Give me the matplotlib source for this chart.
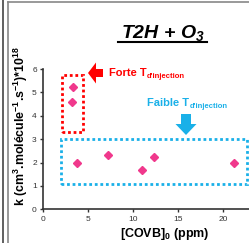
import matplotlib
matplotlib.use("Agg")
import matplotlib.pyplot as plt
from matplotlib.lines import Line2D
from matplotlib.patches import Rectangle, Polygon

plt.rcParams['font.family'] = ['Liberation Sans', 'DejaVu Sans']
plt.rcParams['mathtext.fontset'] = 'custom'
plt.rcParams['mathtext.rm'] = 'Liberation Sans'
plt.rcParams['mathtext.bf'] = 'Liberation Sans:bold'
plt.rcParams['mathtext.it'] = 'Liberation Sans:italic'
plt.rcParams['mathtext.bfit'] = 'Liberation Sans:bold:italic'

# Data
covb_high = [3.37, 3.2]          # forte T d'injection
k_high = [5.21, 4.60]
covb_low = [3.8, 7.25, 10.95, 12.3, 21.2]   # faible T d'injection
k_low = [2.00, 2.34, 1.68, 2.22, 1.98]
xticks = [0, 5, 10, 15, 20]
yticks = [0, 1, 2, 3, 4, 5, 6]

W, H = 249, 243
fig = plt.figure(figsize=(W / 100, H / 100), dpi=100)

def fx(px):
    return px / W

def fy(py):
    return 1 - py / H

ax = fig.add_axes([fx(43), fy(209.3), fx(207), (209.3 - 69) / H])
ax.set_xlim(0, 23)
ax.set_ylim(0, 6)
ax.set_xticks(xticks)
ax.set_yticks(yticks)
for s in ['top', 'right']:
    ax.spines[s].set_visible(False)
for s in ['left', 'bottom']:
    ax.spines[s].set_color('#333333')
    ax.spines[s].set_linewidth(1.2)
ax.tick_params(direction='out', length=2.5, width=1, colors='#333333',
               labelsize=6, pad=2)
ax.patch.set_alpha(0)

pink = '#f0388c'
ax.plot(covb_high, k_high, linestyle='none', marker='D', markersize=4.2,
        color=pink, clip_on=False)
ax.plot(covb_low, k_low, linestyle='none', marker='D', markersize=4.2,
        color=pink, clip_on=False)

red = '#ff0000'
blue = '#1ab0e8'
ax.add_patch(Rectangle((2.07, 3.3), 4.4 - 2.07, 5.74 - 3.3, fill=False,
                       edgecolor=red, linestyle=(0, (1, 1)), linewidth=2, clip_on=False))
ax.add_patch(Rectangle((1.97, 1.07), 22.7 - 1.97, 3.02 - 1.07, fill=False,
                       edgecolor=blue, linestyle=(0, (1, 1)), linewidth=2, clip_on=False))

ax.set_xlabel(r'[COVB]$_{\mathbf{0}}$ (ppm)', fontsize=9, fontweight='bold')
ax.set_ylabel(r'k (cm$^{\mathbf{3}}$.molécule$^{\mathbf{-1}}$.s$^{\mathbf{-1}}$)*10$^{\mathbf{18}}$',
              fontsize=8.9, fontweight='bold')
# label placement in figure pixels
ax.xaxis.set_label_coords(fx(164.5), fy(234), transform=fig.transFigure)
ax.xaxis.label.set_va('center')
ax.yaxis.set_label_coords(fx(20.5), fy(126), transform=fig.transFigure)
ax.yaxis.label.set_va('center')

# Arrows (figure pixel coords)
def poly(pts, color):
    fig.add_artist(Polygon([(fx(x), fy(y)) for x, y in pts], closed=True,
                           transform=fig.transFigure, facecolor=color,
                           edgecolor='none'))

poly([(88, 73), (96, 62.5), (96, 69), (103, 69), (103, 77), (96, 77), (96, 83.5)], red)
poly([(186, 135), (175.5, 124), (181, 124), (181, 114), (191, 114), (191, 124), (196.5, 124)], blue)

t1 = fig.text(fx(109), fy(73), 'Forte T', color=red, fontsize=8, fontweight='bold',
              va='center', ha='left')
t2 = fig.text(fx(147), fy(103), 'Faible T', color=blue, fontsize=8, fontweight='bold',
              va='center', ha='left')
for t, c in [(t1, red), (t2, blue)]:
    fig.add_artist(plt.Annotation("d'injection", xy=(1, 0), xycoords=t,
                                  xytext=(0.3, -1.5), textcoords='offset points',
                                  color=c, fontsize=5.5, fontweight='bold',
                                  va='bottom', ha='left'))

title = fig.text(fx(163), fy(33), r'T2H + O$_{\mathbfit{3}}$', fontsize=14,
                 fontweight='bold', style='italic', ha='center', va='center')
fig.add_artist(Line2D([fx(118), fx(207)], [fy(42), fy(42)], color='black',
                      linewidth=1.5, transform=fig.transFigure))

# Frame lines
fig.add_artist(Line2D([fx(2.5), fx(2.5)], [0, 1], color='#444444', linewidth=1.2,
                      transform=fig.transFigure))
fig.add_artist(Line2D([fx(8), fx(8)], [0, fy(2)], color='#888888', linewidth=1.2,
                      transform=fig.transFigure))
fig.add_artist(Line2D([fx(8), 1], [fy(2), fy(2)], color='#888888', linewidth=1.2,
                      transform=fig.transFigure))

fig.savefig('out.png', dpi=100)
